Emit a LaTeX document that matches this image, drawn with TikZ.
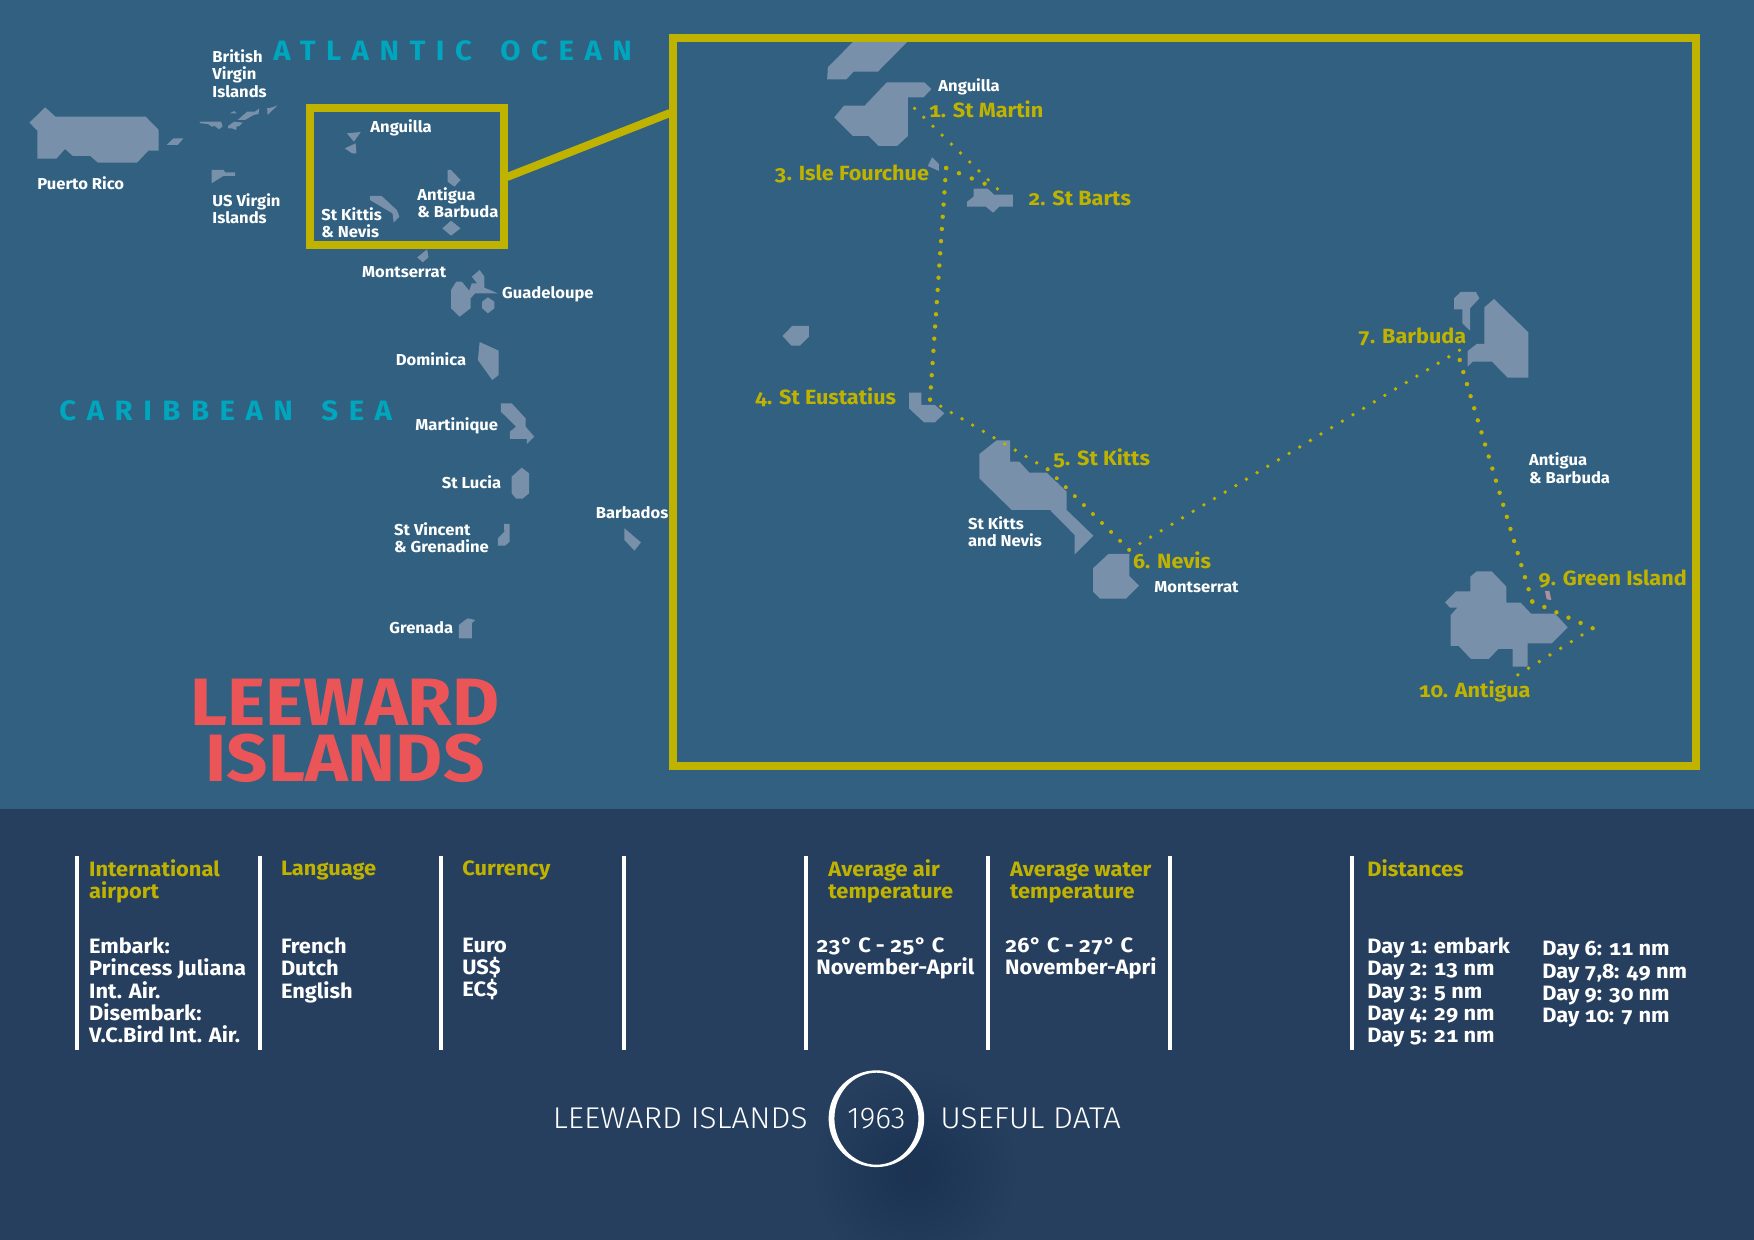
\documentclass[tikz,border=0pt]{standalone}
\usepackage{fontspec}
\setmainfont[Numbers={OldStyle,Monospaced},FakeStretch=1.05]{Fira Sans}
\newfontfamily\spacedfont[LetterSpace=37.5,FakeStretch=1.05]{Fira Sans}
\newfontfamily\titlefont[FakeStretch=1.08]{Fira Sans}
\newfontfamily\lightfont[FakeStretch=1.05]{Fira Sans Light}
\newfontfamily\yearfont{Fira Sans Light}
\usetikzlibrary{calc}
\definecolor{seatop}{HTML}{316080}
\definecolor{bandcol}{HTML}{273F5E}
\definecolor{isle}{HTML}{7890A9}
\definecolor{gold}{HTML}{BFB300}
\definecolor{teal}{HTML}{00A6BD}
\definecolor{redt}{HTML}{EB5557}
\definecolor{shadowcol}{HTML}{1C2F4A}
\tikzset{
  x=0.5pt,y=-0.5pt,
  isl/.style={fill=isle,draw=none},
  lab/.style={text=white,anchor=north west,inner sep=0pt,align=left,execute at begin node=\vphantom{l},font=\fontsize{7.9pt}{8.8pt}\selectfont\bfseries},
  stoplab/.style={text=gold,anchor=north west,inner sep=0pt,execute at begin node=\vphantom{l},font=\fontsize{10.3pt}{11pt}\selectfont\bfseries},
  headlab/.style={text=gold,anchor=north west,inner sep=0pt,align=left,execute at begin node=\vphantom{l},font=\fontsize{10.4pt}{11pt}\selectfont\bfseries},
  bodylab/.style={text=white,anchor=north west,inner sep=0pt,align=left,execute at begin node=\vphantom{l},font=\fontsize{10.4pt}{11.15pt}\selectfont\bfseries},
  sealab/.style={text=teal,anchor=north west,inner sep=0pt,font=\fontsize{14pt}{16pt}\selectfont\spacedfont\bfseries},
  titlelab/.style={text=redt,anchor=north,inner sep=0pt,font=\fontsize{33.5pt}{36pt}\selectfont\titlefont\bfseries},
  thinlab/.style={text=white,anchor=north west,inner sep=0pt,font=\fontsize{15pt}{16pt}\selectfont\lightfont},
  framebox/.style={draw=gold,line width=4pt,inner sep=0pt,outer sep=0pt,anchor=north west},
  barline/.style={draw=white,line width=2pt},
  routeline/.style={draw=gold,line cap=round}
}
\newcommand\route[4]{\draw let \p1=($(#2)-(#1)$), \n1={veclen(\x1,\y1)/#3-0.01} in [routeline,line width=#4pt,dash pattern=on 0pt off \n1] (#1) -- (#2);}
\begin{document}
\begin{tikzpicture}
\useasboundingbox (0,0) rectangle (1754,1240);
\fill[seatop] (0,0) rectangle (1754,809);
\fill[bandcol] (0,809) rectangle (1754,1240);

% --- left map, zoom 1 coordinates
\begin{scope}[xscale=0.43365,yscale=0.33333]
\fill[isl] (68,368)--(104,322)--(128,350)--(336,350)--(366,390)--(366,452)--(342,452)--(316,488)--(226,488)--(208,468)--(168,468)--(150,447)--(130,476)--(86,476)--(86,392)--cycle;
\fill[isl] (384,435)--(400,415)--(423,415)--(410,435)--cycle;
\fill[isl] (460,365)--(510,365)--(513,380)--(505,388)--(495,378)--(488,380)--(480,372)--(462,370)--cycle;
\fill[isl] (526,378)--(540,365)--(560,368)--(552,378)--(545,380)--(545,390)--(535,385)--(526,385)--cycle;
\fill[isl] (548,360)--(570,335)--(588,335)--(598,325)--(596,342)--(585,345)--(565,360)--cycle;
\fill[isl] (530,340)--(540,333)--(546,340)--cycle;
\fill[isl] (616,325)--(628,322)--(640,316)--(625,335)--(617,345)--cycle;
\fill[isl] (488,510)--(515,510)--(520,517)--(542,517)--(542,528)--(515,528)--(488,550)--cycle;
\fill[isl] (800,400)--(832,396)--(816,425)--cycle;
\fill[isl] (795,445)--(820,430)--(822,460)--(812,460)--cycle;
\fill[isl] (853,588)--(880,588)--(915,630)--(921,650)--(908,668)--(905,640)--(853,600)--cycle;
\fill[isl] (1020,685)--(1040,662)--(1062,685)--(1040,707)--cycle;
\fill[isl] (1032,510)--(1040,510)--(1062,540)--(1048,560)--(1032,545)--cycle;
\fill[isl] (962,772)--(985,748)--(988,772)--(975,787)--cycle;
\fill[isl] (1040,870)--(1052,845)--(1065,845)--(1082,872)--(1088,850)--(1100,850)--(1088,830)--(1106,810)--(1117,830)--(1117,863)--(1148,880)--(1096,880)--(1085,895)--(1085,925)--(1060,950)--(1040,925)--cycle;
\fill[isl] (1112,905)--(1125,892)--(1140,905)--(1140,925)--(1125,940)--(1112,925)--cycle;
\fill[isl] (1106,1026)--(1150,1052)--(1150,1125)--(1135,1140)--(1102,1080)--cycle;
\end{scope}
% --- left map, zoom 2 coordinates
\begin{scope}[shift={(0,390)},xscale=0.43365,yscale=0.33333]
\fill[isl] (1155,40)--(1180,40)--(1212,85)--(1212,110)--(1232,140)--(1215,162)--(1215,147)--(1176,147)--(1176,125)--(1190,110)--(1155,65)--cycle;
\fill[isl] (1180,260)--(1203,233)--(1220,250)--(1220,310)--(1205,326)--(1190,326)--(1180,310)--cycle;
\fill[isl] (1162,402)--(1175,402)--(1175,455)--(1165,467)--(1148,467)--(1148,445)--(1163,425)--cycle;
\fill[isl] (1440,415)--(1478,457)--(1463,482)--(1440,450)--cycle;
\fill[isl] (1058,705)--(1078,685)--(1096,690)--(1088,700)--(1088,745)--(1058,745)--cycle;
\end{scope}
% --- inset, zoom 3
\begin{scope}[shift={(660,20)},xscale=0.35714,yscale=0.33333]
\fill[isl] (540,66)--(692,66)--(610,155)--(542,155)--(522,178)--(468,178)--(470,142)--cycle;
\fill[isl] (635,187)--(740,187)--(760,207)--(738,232)--(694,232)--(694,348)--(664,378)--(612,378)--(584,348)--(540,348)--(488,292)--(515,257)--(573,257)--cycle;
\fill[isl] (762,412)--(781,432)--(781,453)--(750,438)--cycle;
\fill[isl] (878,506)--(918,506)--(935,524)--(988,524)--(988,560)--(950,560)--(933,578)--(912,560)--(860,560)--(860,545)--(878,530)--cycle;
\fill[isl] (343,948)--(370,918)--(417,918)--(417,950)--(392,977)--(368,977)--cycle;
\end{scope}
% --- inset, zoom 4
\begin{scope}[shift={(730,380)},scale=0.33333]
\fill[isl] (537,38)--(574,38)--(574,75)--(615,75)--(643,100)--(615,127)--(582,127)--(537,85)--cycle;
\fill[isl] (748,222)--(800,181)--(840,181)--(840,245)--(868,245)--(898,278)--(950,278)--(1010,335)--(1010,390)--(1090,467)--(1034,523)--(1034,465)--(960,390)--(845,390)--(748,295)--cycle;
\fill[isl] (1089,565)--(1135,522)--(1198,522)--(1198,588)--(1227,617)--(1188,656)--(1110,656)--(1089,635)--cycle;
\end{scope}
% --- inset, zoom 5
\begin{scope}[shift={(1300,270)},scale=0.33333]
\fill[isl] (462,85)--(482,66)--(528,66)--(538,85)--(510,115)--(510,182)--(487,160)--(487,118)--(462,118)--cycle;
\fill[isl] (553,112)--(582,87)--(685,187)--(685,323)--(623,323)--(576,275)--(518,275)--(503,290)--(503,243)--(530,222)--(553,222)--cycle;
\fill[isl] (435,997)--(468,964)--(511,964)--(511,920)--(530,904)--(575,904)--(619,950)--(619,998)--(662,998)--(693,1031)--(765,1031)--(803,1072)--(755,1120)--(683,1120)--(683,1190)--(638,1190)--(638,1137)--(595,1137)--(566,1167)--(513,1167)--(476,1128)--(452,1128)--(452,1035)--(472,1013)--(450,1013)--cycle;
\fill[fill=white!55!isle!70!red!60!isle] (735,963)--(748,963)--(754,990)--(740,988)--cycle;
\end{scope}

% frames
\node[framebox,minimum width=97pt,minimum height=68.5pt] (smallframe) at (310,108) {};
\node[framebox,minimum width=511.5pt,minimum height=364pt] (bigframe) at (673,38) {};
\coordinate (linkA) at (507,177);
\coordinate (linkB) at (670,113);
\draw[draw=gold,line width=4pt] (linkA) -- (linkB);

% route
\coordinate (pA) at (914.6,108.3);
\coordinate (pB) at (997.5,189);
\coordinate (pC) at (984.6,183.7);
\coordinate (pD) at (946.1,168);
\coordinate (pE) at (930,400);
\coordinate (pF) at (1047.7,469.3);
\coordinate (pG) at (1129.3,550);
\coordinate (pH) at (1460,350);
\coordinate (pI) at (1459.7,360);
\coordinate (pJ) at (1532.3,601.7);
\coordinate (pK) at (1592.7,628.3);
\coordinate (pL) at (1517.7,675);
\route{pA}{pB}{9}{1.9}
\route{pC}{pD}{3}{2.2}
\route{pD}{pE}{19}{2.2}
\route{pE}{pF}{11}{1.9}
\route{pF}{pG}{9}{2.0}
\route{pG}{pH}{31}{1.9}
\route{pI}{pJ}{20}{2.2}
\route{pJ}{pK}{5}{2.2}
\route{pK}{pL}{7}{1.9}

% left map labels
\node[sealab] (atl) at (273,40) {ATLANTIC\hspace{5.5pt} OCEAN};
\node[sealab] (car) at (59,400) {CARIBBEAN\hspace{5.5pt} SEA};
\node[lab] (bvi) at (212,49) {British\\Virgin\\Islands};
\node[lab] (prico) at (37,176) {Puerto Rico};
\node[lab] (usvi) at (212,193) {US Virgin\\Islands};
\node[lab] (ang1) at (370,119) {Anguilla};
\node[lab] (antb1) at (417,187) {Antigua\\\& Barbuda};
\node[lab] (skn1) at (321,207) {St Kittis\\\& Nevis};
\node[lab] (mont1) at (361.7,265.5) {Montserrat};
\node[lab] (guad) at (501.7,286) {Guadeloupe};
\node[lab] (domi) at (395.5,352.5) {Dominica};
\node[lab] (mart) at (415,417.5) {Martinique};
\node[lab] (luci) at (441.5,475) {St Lucia};
\node[lab] (vinc) at (393.8,522) {St Vincent\\\& Grenadine};
\node[lab] (barb) at (595.4,506) {Barbados};
\node[lab] (gren) at (389,621) {Grenada};
\node[titlelab] (tit1) at (345,679) {LEEWARD};
\node[titlelab] (tit2) at (345,734) {ISLANDS};

% inset labels
\node[lab] (ang2) at (938,78.5) {Anguilla};
\node[stoplab] (s1) at (928.4,100) {1. St Martin};
\node[stoplab] (s3) at (774.3,164) {3. Isle Fourchue};
\node[stoplab] (s2) at (1027.9,189.5) {2. St Barts};
\node[stoplab] (s4) at (754.6,387.5) {4. St Eustatius};
\node[stoplab] (s5) at (1052.7,448) {5. St Kitts};
\node[lab] (skn2) at (967.7,516) {St Kitts\\and Nevis};
\node[stoplab] (s6) at (1132.7,551) {6. Nevis};
\node[lab] (mont2) at (1154,580.5) {Montserrat};
\node[stoplab] (s7) at (1357.7,327) {7. Barbuda};
\node[lab] (antb2) at (1528.7,452.5) {Antigua\\\& Barbuda};
\node[stoplab] (s9) at (1538.3,569.5) {9. Green Island};
\node[stoplab] (s10) at (1418.3,680) {10. Antigua};

% data columns
\foreach \bx/\bn in {77/a,259.7/b,441.3/c,623.5/d,805.7/e,988/f,1170.3/g,1352/h}{
  \coordinate (bt\bn) at (\bx,856);
  \coordinate (bb\bn) at (\bx,1050);
  \draw[barline] (bt\bn) -- (bb\bn);
}
\node[headlab] (h1) at (88.8,859) {International\\airport};
\node[headlab] (h2) at (280.6,859) {Language};
\node[headlab] (h3) at (462,859.5) {Currency};
\node[headlab] (h4) at (828,859) {Average air\\temperature};
\node[headlab] (h5) at (1009.6,861.5) {Average water\\temperature};
\node[headlab] (h6) at (1367,859) {Distances};
\node[bodylab] (b1) at (88.8,937.5) {Embark:\\Princess Juliana\\Int. Air.\\Disembark:\\V.C.Bird Int. Air.};
\node[bodylab] (b2) at (280.6,937.5) {French\\Dutch\\English};
\node[bodylab] (b3) at (462,937.5) {Euro\\US\$\\EC\$};
\node[bodylab] (b4) at (816,937.5) {23° C - 25° C\\November-April};
\node[bodylab] (b5) at (1004.8,937.5) {26° C - 27° C\\November-Apri};
\node[bodylab] (b6) at (1367,937.5) {Day 1: embark\\Day 2: 13 nm\\Day 3: 5 nm\\Day 4: 29 nm\\Day 5: 21 nm};
\node[bodylab] (b7) at (1542,941) {Day 6: 11 nm\\Day 7,8: 49 nm\\Day 9: 30 nm\\Day 10: 7 nm};

% footer
\coordinate (shadowc) at (915,1172);
\foreach \r in {100,92,...,12}{\fill[shadowcol,fill opacity=0.025] (shadowc) circle (\r);}
\node[thinlab] (ft1) at (552.5,1107) {LEEWARD ISLANDS};
\node[thinlab] (ft2) at (940,1107) {USEFUL DATA};
\fill[white,even odd rule] (876.4,1118.7) ellipse (47.8 and 48.4) (876.4,1118.7) ellipse (42 and 46);
\node[text=white,inner sep=0pt,font=\fontsize{15pt}{16pt}\selectfont\yearfont] (yr) at (876.4,1119) {1963};
\end{tikzpicture}
\end{document}
